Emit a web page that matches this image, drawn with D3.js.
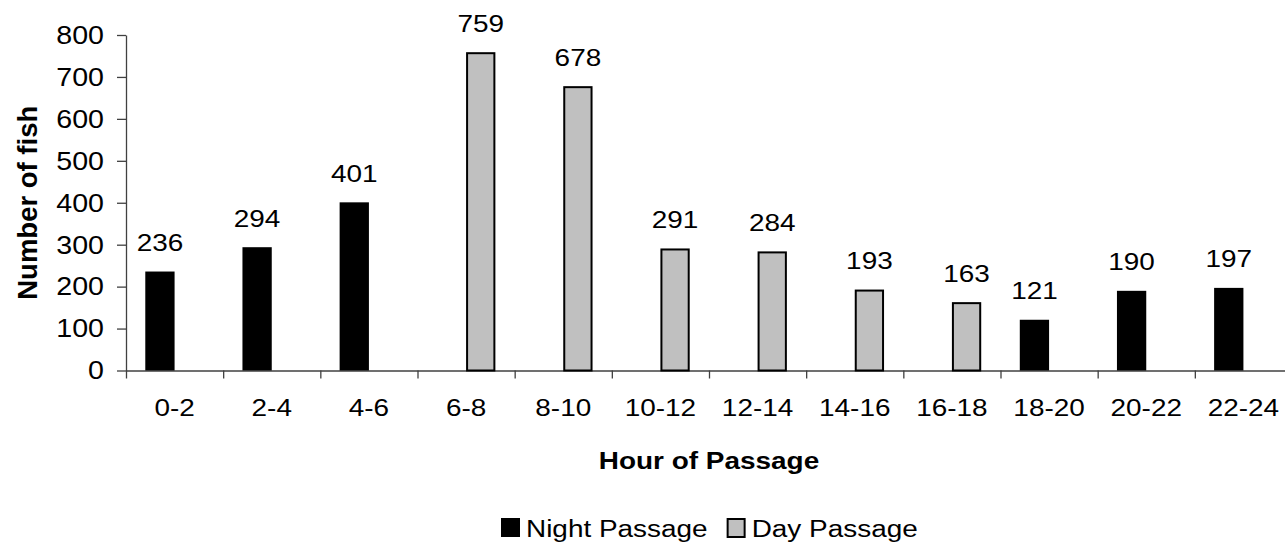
<!DOCTYPE html>
<html>
<head>
<meta charset="utf-8">
<script src="https://cdn.jsdelivr.net/npm/d3@7"></script>
<style>
  html, body { margin: 0; padding: 0; background: #fff; }
  svg { display: block; font-family: Arial, "Liberation Sans", sans-serif; }
</style>
</head>
<body>
<svg id="chart" width="1285" height="547"></svg>
<script>
// Fish passage counts by two-hour period, split into night and day passage
const hours = ["0-2", "2-4", "4-6", "6-8", "8-10", "10-12", "12-14", "14-16", "16-18", "18-20", "20-22", "22-24"];
const nightPassage = [236, 294, 401, 0, 0, 0, 0, 0, 0, 121, 190, 197];
const dayPassage   = [0, 0, 0, 759, 678, 291, 284, 193, 163, 0, 0, 0];
const seriesNames  = ["Night Passage", "Day Passage"];
const seriesColors = ["#000000", "#c0c0c0"];
const yTicks = [0, 100, 200, 300, 400, 500, 600, 700, 800];

// horizontal text is drawn slightly wide
const SX = 1.14;
const FONT = 24.5;
const Y_SX = 1.1;
const Y_FONT = 26;

const svg = d3.select("#chart");
const plotLeft = 126, plotRight = 1292, plotTop = 35, plotBottom = 370.5;

const x0 = d3.scaleBand().domain(hours).range([plotLeft, plotRight])
  .paddingInner(0.397).paddingOuter(0.1985);
const x1 = d3.scaleBand().domain(seriesNames).range([0, x0.bandwidth()]);
const xEdge = d3.scaleLinear().domain([0, hours.length]).range([plotLeft, plotRight]);
const y = d3.scaleLinear().domain([0, 800]).range([plotBottom, plotTop]);

function stretchText(sel, sx) {
  sel.attr("transform", `scale(${sx},1)`)
     .attr("x", function () { return (+this.getAttribute("x") || 0) / sx; });
}

// y axis
const yAxis = svg.append("g").attr("transform", `translate(${plotLeft},0)`)
  .call(d3.axisLeft(y).tickValues(yTicks).tickSize(9).tickPadding(13).tickSizeOuter(0));
yAxis.select(".domain").attr("stroke", "#404040").attr("stroke-width", 1.3);
yAxis.selectAll(".tick line").attr("stroke", "#404040").attr("stroke-width", 1.3);
yAxis.selectAll("text").attr("font-size", Y_FONT).attr("fill", "#000").call(stretchText, Y_SX);

// x axis: tick marks between categories
const xTickAxis = svg.append("g").attr("transform", `translate(0,${plotBottom})`)
  .call(d3.axisBottom(xEdge).tickValues(d3.range(hours.length + 1)).tickFormat("").tickSize(8).tickSizeOuter(0));
xTickAxis.select(".domain").attr("stroke", "#404040").attr("stroke-width", 1.3);
xTickAxis.selectAll(".tick line").attr("stroke", "#404040").attr("stroke-width", 1.3);

// x axis: category labels
const xLabelAxis = svg.append("g").attr("transform", `translate(0,${plotBottom})`)
  .call(d3.axisBottom(x0).tickSize(0).tickPadding(28));
xLabelAxis.select(".domain").remove();
xLabelAxis.selectAll("text").attr("font-size", FONT).attr("fill", "#000").call(stretchText, SX);

// bars
const rows = hours.map((h, i) => ({ hour: h, values: [nightPassage[i], dayPassage[i]] }));
const groups = svg.append("g").selectAll("g").data(rows).join("g")
  .attr("transform", d => `translate(${x0(d.hour)},0)`);

groups.selectAll("rect")
  .data(d => d.values.map((v, k) => ({ k, v })).filter(e => e.v > 0))
  .join("rect")
  .attr("x", e => x1(seriesNames[e.k]) + (e.k === 1 ? 1 : 0))
  .attr("width", e => x1.bandwidth() - (e.k === 1 ? 2 : 0))
  .attr("y", e => y(e.v) + (e.k === 1 ? 1 : 0))
  .attr("height", e => plotBottom - y(e.v) - (e.k === 1 ? 1 : 0))
  .attr("fill", e => seriesColors[e.k])
  .attr("stroke", e => e.k === 1 ? "#000" : "none")
  .attr("stroke-width", 2);

// value labels
groups.selectAll("text.value")
  .data(d => d.values.map((v, k) => ({ k, v })).filter(e => e.v > 0))
  .join("text")
  .attr("class", "value")
  .attr("text-anchor", "middle")
  .attr("font-size", FONT)
  .attr("fill", "#000")
  .attr("transform", e => `translate(${x1(seriesNames[e.k]) + x1.bandwidth() / 2},${y(e.v) - 20.5}) scale(${SX},1)`)
  .text(e => e.v);

// axis titles
svg.append("text")
  .attr("text-anchor", "middle")
  .attr("font-size", FONT)
  .attr("font-weight", "bold")
  .attr("transform", `translate(${(plotLeft + plotRight) / 2},469) scale(${SX},1)`)
  .text("Hour of Passage");

svg.append("text")
  .attr("text-anchor", "middle")
  .attr("font-size", 27.5)
  .attr("font-weight", "bold")
  .attr("transform", `translate(37,${(plotTop + plotBottom) / 2}) rotate(-90)`)
  .text("Number of fish");

// legend
const legend = svg.append("g").attr("transform", "translate(501,518)");
let lx = 0;
seriesNames.forEach((name, k) => {
  const item = legend.append("g").attr("transform", `translate(${lx},0)`);
  item.append("rect")
    .attr("x", k === 1 ? 1 : 0).attr("y", k === 1 ? 1 : 0)
    .attr("width", k === 1 ? 17 : 19).attr("height", k === 1 ? 18 : 19)
    .attr("fill", seriesColors[k])
    .attr("stroke", k === 1 ? "#000" : "none")
    .attr("stroke-width", 2);
  const t = item.append("text")
    .attr("font-size", FONT)
    .attr("fill", "#000")
    .attr("transform", `translate(25,19) scale(${SX},1)`)
    .text(name);
  lx += 25 + t.node().getComputedTextLength() * SX + 19;
});
</script>
</body>
</html>
